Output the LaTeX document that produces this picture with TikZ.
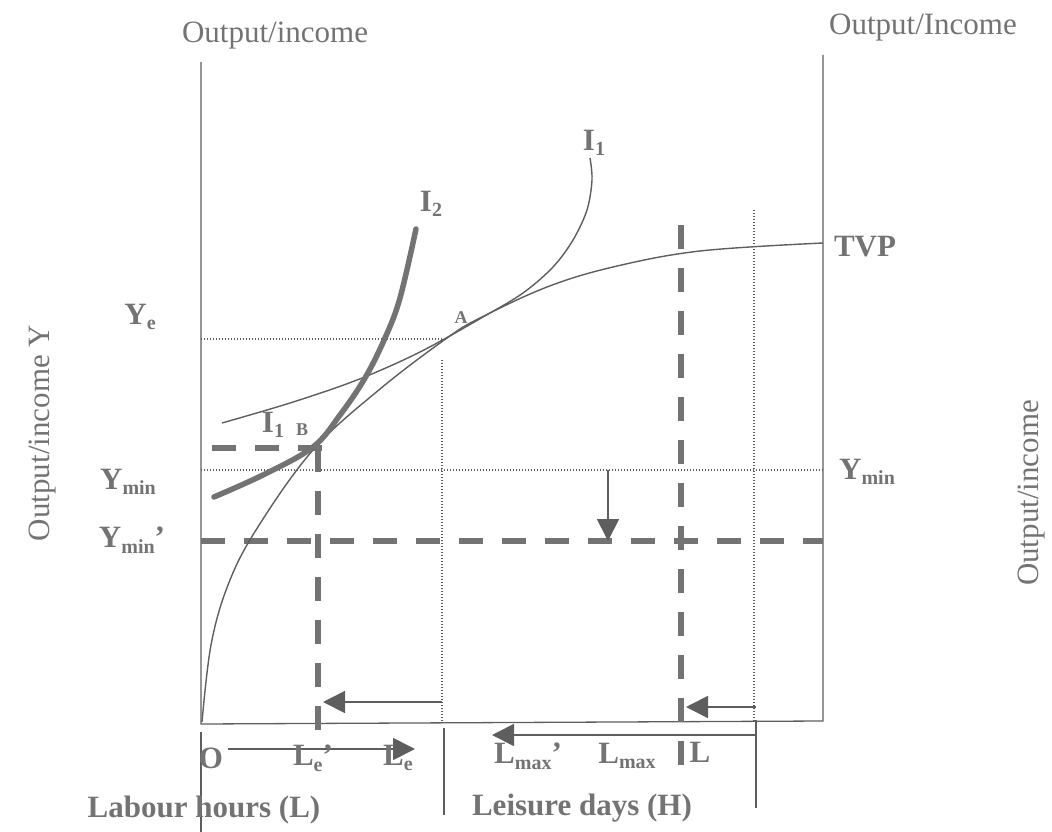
\documentclass[tikz,border=0pt]{standalone}
\usepackage{fontspec}
\setmainfont{Liberation Serif}
\usepackage{tikz}
\usetikzlibrary{arrows.meta,positioning,calc}
\definecolor{inkgray}{HTML}{5E5E5E}
\definecolor{txtgray}{HTML}{737373}
\newcommand{\lsub}[1]{\raisebox{-0.4ex}{\fontsize{20}{20}\selectfont #1}}

\begin{document}
\begin{tikzpicture}[x=1pt,y=-1pt,
  font=\fontsize{31}{34}\selectfont, >={Triangle[length=22pt,width=22pt]},
  ax/.style={draw=inkgray,line width=1.3pt},
  dots/.style={draw=inkgray,line width=1.4pt,dash pattern=on 1.4pt off 1.6pt},
  bigdash/.style={draw=txtgray,line width=6pt,dash pattern=on 24pt off 19pt},
  curve/.style={draw=inkgray,line width=1.4pt},
  fatcurve/.style={draw=txtgray,line width=5.5pt,line cap=round},
  ptr/.style={draw=inkgray,fill=inkgray,line width=1.8pt,->},
  lbl/.style={text=txtgray,inner sep=0pt},
  blbl/.style={text=txtgray,font=\fontsize{31}{34}\selectfont\bfseries,inner sep=0pt},
  tiny/.style={text=txtgray,font=\fontsize{18}{18}\selectfont\bfseries,inner sep=0pt}
]
\useasboundingbox (0,0) rectangle (1052,832);

% frame
\coordinate (O) at (201,724);
\coordinate (Otop) at (201,62);
\coordinate (R) at (823,721);
\coordinate (Rtop) at (823,55);
\coordinate (Obot) at (201,832);
\draw[ax] (Otop) -- (O) -- (R) -- (Rtop);
\draw[ax] ($(O)+(0,8)$) -- (Obot);
\draw[ax] (444,728) -- (444,815);
\draw[ax] (756,720) -- (756,808);

% dotted guides
\coordinate (ye) at (201,339);
\coordinate (yeA) at (442,339);
\draw[dots] (ye) -- (yeA);
\draw[dots] (442,360) -- (442,722);
\coordinate (ymn) at (201,470);
\coordinate (ymnR) at (823,470);
\draw[dots] (ymn) -- (ymnR);
\draw[dots] (754,210) -- (754,721);

% thick dashed lines
\draw[bigdash] (201,541) -- (823,541);
\draw[bigdash] (212,448) -- (322,448);
\draw[bigdash] (318,448) -- (318,730);
\draw[bigdash] (681,225) -- (681,765);

% curves
\draw[curve] plot[smooth,tension=0.6] coordinates {(202,722) (211,645) (228,585) (256,530) (313,450) (380,389) (447,338) (480,318) (547,287) (613,267) (700,251) (823,243)};
\draw[curve] plot[smooth,tension=0.55] coordinates {(222,423) (290,403) (357,380) (420,352) (483,317) (523,293) (553,267) (573,240) (587,210) (592,180) (590,158)};
\draw[fatcurve] plot[smooth,tension=0.6] coordinates {(214,497) (265,474) (313,447) (340,415) (365,378) (385,338) (400,298) (416,229)};

% arrows
\draw[ptr] (608,470) -- (608,541);
\draw[ptr] (442,702) -- (323,702);
\draw[ptr] (756,707) -- (686,707);
\draw[ptr] (228,749) -- (415,749);
\draw[ptr] (756,735) -- (492,735);

% labels
\node[lbl] (tl) at (275,36) {Output/income};
\node[lbl] (tr) at (923,28) {Output/Income};
\node[lbl,rotate=90] (yl) at (43,433) {Output/income Y};
\node[lbl,rotate=90] (yr) at (1032,493) {Output/income};
\node[blbl] (lye) at (140,317) {Y\lsub{e}};
\node[blbl] (lymin) at (128,482) {Y\lsub{min}};
\node[blbl] (lyminb) at (132,540) {Y\lsub{min}’};
\node[blbl] (rymin) at (867,472) {Y\lsub{min}};
\node[blbl] (tvp) at (865,247) {TVP};
\node[tiny] (la) at (461,318) {A};
\node[blbl] (li1) at (594,143) {I\lsub{1}};
\node[blbl] (li2) at (431,204) {I\lsub{2}};
\node[blbl] (li1b) at (273,425) {I\lsub{1}};
\node[tiny] (lb) at (302,430) {B};
\node[blbl] (lo) at (211,758) {O};
\node[blbl] (lleb) at (313,758) {L\lsub{e}’};
\node[blbl] (lle) at (398,758) {L\lsub{e}};
\node[blbl] (lmaxb) at (528,756) {L\lsub{max}’};
\node[blbl] (lmax) at (627,756) {L\lsub{max}};
\node[blbl] (ll) at (700,752) {L};
\node[blbl] (labour) at (204,810) {Labour hours (L)};
\node[blbl] (leisure) at (582,808) {Leisure days (H)};
\end{tikzpicture}
\end{document}
